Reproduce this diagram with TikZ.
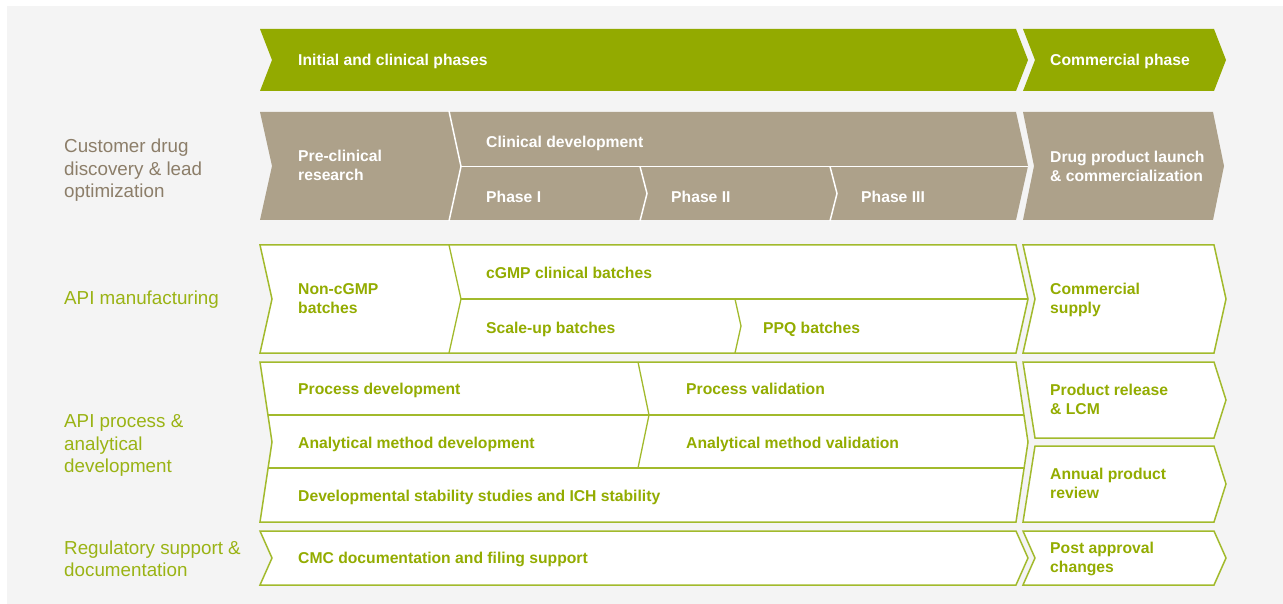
\documentclass[tikz,border=0pt]{standalone}
\usepackage{fontspec}
\setmainfont{Liberation Sans}
\definecolor{bggray}{HTML}{F4F4F4}
\definecolor{hgreen}{HTML}{93AA00}
\definecolor{txtgreen}{HTML}{93AC00}
\definecolor{lblgreen}{HTML}{9AB314}
\definecolor{taupe}{HTML}{ADA18A}
\definecolor{lbltaupe}{HTML}{8C7E69}
\definecolor{outl}{HTML}{A2BA2C}
\newcommand\mlines[1]{\begin{tabular}{@{}l@{}}#1\end{tabular}}
\tikzset{
  boldtxt/.style={font=\bfseries\fontsize{15.7}{19}\selectfont, inner sep=0pt},
  wtxt/.style={boldtxt, text=white},
  gtxt/.style={boldtxt, text=txtgreen},
  lbl/.style={font=\fontsize{18.8}{22.5}\selectfont, inner sep=0pt, anchor=west},
  greenhead/.style={fill=hgreen, draw=none},
  taupebox/.style={fill=taupe, draw=none},
  whitebox/.style={fill=white, draw=outl, line width=1.5pt, line join=miter},
  wdiv/.style={draw=white, line width=1.5pt},
  gdiv/.style={draw=outl, line width=1.3pt},
}
\begin{document}
\begin{tikzpicture}[x=1pt,y=-1pt]
\useasboundingbox (0,0) rectangle (1283,604);
\fill[white] (0,0) rectangle (1283,604);
\fill[bggray] (7,6) rectangle (1283,604);

% ---- header row
\path[greenhead] (260,29) -- (1016,29) -- (1028,60) -- (1016,91) -- (260,91) -- (272,60) -- cycle;
\path[greenhead] (1023,29) -- (1214,29) -- (1226,60) -- (1214,91) -- (1023,91) -- (1035,60) -- cycle;
\node[wtxt, anchor=base west] (hA) at (298,66) {Initial and clinical phases};
\node[wtxt, anchor=base west] (hB) at (1050,66) {Commercial phase};

% ---- taupe row
\path[taupebox] (260,112) -- (1016,112) -- (1028,166) -- (1016,220) -- (260,220) -- (272,166) -- cycle;
\path[taupebox] (1023,112) -- (1213,112) -- (1224,166) -- (1213,220) -- (1023,220) -- (1034,166) -- cycle;
\draw[wdiv] (449,111) -- (461,166.5) -- (449,221);
\draw[wdiv] (461,166.5) -- (1028,166.5);
\draw[wdiv] (640,166.5) -- (647,193.5) -- (640,221);
\draw[wdiv] (830,166.5) -- (837,193.5) -- (830,221);
\node[wtxt, anchor=west] (pre) at (298,167.2) {\mlines{Pre-clinical\\research}};
\node[wtxt, anchor=base west] (clin) at (486,147.7) {Clinical development};
\node[wtxt, anchor=base west] (ph1) at (486,202.3) {Phase I};
\node[wtxt, anchor=base west] (ph2) at (671,202.3) {Phase II};
\node[wtxt, anchor=base west] (ph3) at (861,202.3) {Phase III};
\node[wtxt, anchor=west] (launch) at (1050,168.2) {\mlines{Drug product launch\\\& commercialization}};

% ---- API manufacturing row
\path[whitebox] (260,245) -- (1016,245) -- (1028,299) -- (1016,353) -- (260,353) -- (272,299) -- cycle;
\draw[gdiv] (449,245) -- (461,299) -- (449,353);
\draw[gdiv] (461,299) -- (1028,299);
\draw[gdiv] (735,299) -- (741,326) -- (735,353);
\path[whitebox] (1023,245) -- (1214,245) -- (1226,299) -- (1214,353) -- (1023,353) -- (1035,299) -- cycle;
\node[gtxt, anchor=west] (noncgmp) at (298,299.7) {\mlines{Non-cGMP\\batches}};
\node[gtxt, anchor=base west] (cgmp) at (486,278.5) {cGMP clinical batches};
\node[gtxt, anchor=base west] (scaleup) at (486,333) {Scale-up batches};
\node[gtxt, anchor=base west] (ppq) at (763,333) {PPQ batches};
\node[gtxt, anchor=west] (supply) at (1050,300.2) {\mlines{Commercial\\supply}};

% ---- API process & analytical development row
\path[whitebox] (260,362) -- (1016,362) -- (1028,442) -- (1016,522) -- (260,522) -- (272,442) -- cycle;
\draw[gdiv] (268,415) -- (1024,415);
\draw[gdiv] (268,468) -- (1024,468);
\draw[gdiv] (638,362) -- (649,415) -- (638,468);
\path[whitebox] (1023,362) -- (1214,362) -- (1226,400) -- (1214,438) -- (1035,438) -- cycle;
\path[whitebox] (1035,446) -- (1214,446) -- (1226,484) -- (1214,522) -- (1023,522) -- cycle;
\node[gtxt, anchor=base west] (procdev) at (298,394.5) {Process development};
\node[gtxt, anchor=base west] (procval) at (686,394.5) {Process validation};
\node[gtxt, anchor=base west] (amd) at (298,448.3) {Analytical method development};
\node[gtxt, anchor=base west] (amv) at (686,448.3) {Analytical method validation};
\node[gtxt, anchor=base west] (stab) at (298,501.7) {Developmental stability studies and ICH stability};
\node[gtxt, anchor=west] (release) at (1050,401.4) {\mlines{Product release\\\& LCM}};
\node[gtxt, anchor=west] (annual) at (1050,484.7) {\mlines{Annual product\\review}};

% ---- regulatory row
\path[whitebox] (260,531) -- (1016,531) -- (1028,558) -- (1016,585) -- (260,585) -- (272,558) -- cycle;
\path[whitebox] (1023,531) -- (1214,531) -- (1226,558) -- (1214,585) -- (1023,585) -- (1035,558) -- cycle;
\node[gtxt, anchor=base west] (cmc) at (298,563.3) {CMC documentation and filing support};
\node[gtxt, anchor=west] (post) at (1050,559.4) {\mlines{Post approval\\changes}};

% ---- left labels
\node[lbl, text=lbltaupe] (cust) at (64,170.7) {\mlines{Customer drug\\discovery \& lead\\optimization}};
\node[lbl, text=lblgreen, anchor=base west] (apim) at (64,304.7) {API manufacturing};
\node[lbl, text=lblgreen] (apip) at (64,445.7) {\mlines{API process \&\\analytical\\development}};
\node[lbl, text=lblgreen] (reg) at (64,561) {\mlines{Regulatory support \&\\documentation}};
\end{tikzpicture}
\end{document}
